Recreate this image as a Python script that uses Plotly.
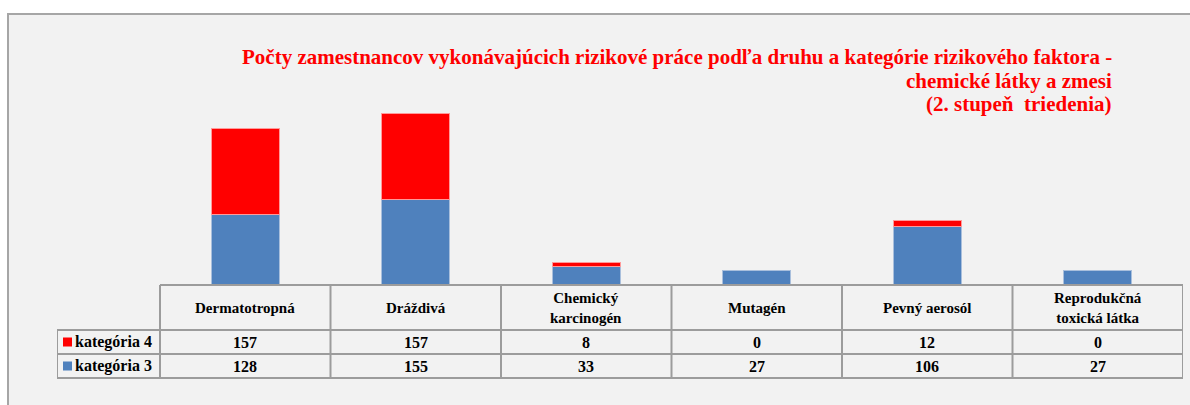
import plotly.graph_objects as go

categories = ["Dermatotropná", "Dráždivá", "Chemický karcinogén", "Mutagén",
              "Pevný aerosól", "Reprodukčná toxická látka"]
header_labels = ["Dermatotropná", "Dráždivá", "Chemický<br>karcinogén", "Mutagén",
                 "Pevný aerosól", "Reprodukčná<br>toxická látka"]
kat3 = [128, 155, 33, 27, 106, 27]
kat4 = [157, 157, 8, 0, 12, 0]
series_names = ["kategória 3", "kategória 4"]
title_lines = ["Počty zamestnancov vykonávajúcich rizikové práce podľa druhu a kategórie rizikového faktora -",
               "chemické látky a zmesi",
               "(2. stupeň  triedenia)"]

BLUE = "#4F81BD"
RED = "#FF0000"
GRID = "#9c9c9c"
FONT = "Liberation Serif"

W, H = 1190, 405
ML, MR, MT, MB = 57, 7, 93, 120
plot_w = W - ML - MR
plot_h = H - MT - MB
cat_px = (1183 - 160) / 6.0
xmin = -0.5 - (160 - 57) / cat_px

def fx(px):
    return (px - ML) / plot_w

def fy(py):
    return (H - MB - py) / plot_h

fig = go.Figure()
fig.add_trace(go.Bar(x=categories, y=kat3, name=series_names[0], marker_color=BLUE,
                     marker_line=dict(color="#a9bfdc", width=[1 if v > 0 else 0 for v in kat3]),
                     width=0.4))
fig.add_trace(go.Bar(x=categories, y=kat4, name=series_names[1], marker_color=RED,
                     marker_line=dict(color="#ff9a9a", width=[1 if v > 0 else 0 for v in kat4]),
                     width=0.4))

shapes = []
shapes.append(dict(type="rect", xref="paper", yref="paper",
                   x0=fx(8), x1=fx(1200), y0=fy(420), y1=fy(14),
                   fillcolor="#f2f2f2", line=dict(color="#a6a6a6", width=2), layer="below"))

y_head_top, y_head_bot, y_r1_bot, y_r2_bot = 285, 330, 354, 378
n = len(categories)
line = dict(color=GRID, width=2)
shapes.append(dict(type="line", xref="x", yref="paper", x0=-0.5, x1=n - 0.5,
                   y0=fy(y_head_top), y1=fy(y_head_top), line=line))
for yy in (y_head_bot, y_r1_bot, y_r2_bot):
    shapes.append(dict(type="line", xref="x", yref="paper", x0=xmin, x1=n - 0.5,
                       y0=fy(yy), y1=fy(yy), line=line))
for i in range(n + 1):
    shapes.append(dict(type="line", xref="x", yref="paper", x0=i - 0.5, x1=i - 0.5,
                       y0=fy(y_head_top), y1=fy(y_r2_bot), line=line))
shapes.append(dict(type="line", xref="x", yref="paper", x0=xmin, x1=xmin,
                   y0=fy(y_head_bot), y1=fy(y_r2_bot), line=line))

annotations = []
for k, (tl, top) in enumerate(zip(title_lines, (43, 67, 90))):
    annotations.append(dict(text="<b>" + tl + "</b>", xref="paper", yref="paper",
                            x=fx(1114), y=fy(top), xanchor="right", yanchor="top", align="right",
                            showarrow=False, font=dict(family=FONT, size=21, color=RED)))

for i, lab in enumerate(header_labels):
    annotations.append(dict(text="<b>" + lab + "</b>", xref="x", yref="paper",
                            x=categories[i], y=fy((y_head_top + y_head_bot) / 2),
                            xanchor="center", yanchor="middle", showarrow=False,
                            font=dict(family=FONT, size=15, color="#000000"), align="center"))
    annotations.append(dict(text="<b>" + str(kat4[i]) + "</b>", xref="x", yref="paper",
                            x=categories[i], y=fy((y_head_bot + y_r1_bot) / 2),
                            xanchor="center", yanchor="middle", showarrow=False,
                            font=dict(family=FONT, size=16, color="#000000")))
    annotations.append(dict(text="<b>" + str(kat3[i]) + "</b>", xref="x", yref="paper",
                            x=categories[i], y=fy((y_r1_bot + y_r2_bot) / 2),
                            xanchor="center", yanchor="middle", showarrow=False,
                            font=dict(family=FONT, size=16, color="#000000")))

for yy, name, col in (((y_head_bot + y_r1_bot) / 2, series_names[1], RED),
                      ((y_r1_bot + y_r2_bot) / 2, series_names[0], BLUE)):
    shapes.append(dict(type="rect", xref="paper", yref="paper",
                       x0=fx(63), x1=fx(72), y0=fy(yy + 4.5), y1=fy(yy - 4.5),
                       fillcolor=col, line=dict(width=0)))
    annotations.append(dict(text="<b>" + name + "</b>", xref="paper", yref="paper",
                            x=fx(73), y=fy(yy), xanchor="left", yanchor="middle", showarrow=False,
                            font=dict(family=FONT, size=16, color="#000000")))

fig.update_layout(
    width=W, height=H,
    margin=dict(l=ML, r=MR, t=MT, b=MB, pad=0),
    barmode="stack",
    showlegend=False,
    paper_bgcolor="#ffffff",
    plot_bgcolor="rgba(0,0,0,0)",
    shapes=shapes,
    annotations=annotations,
    xaxis=dict(range=[xmin, n - 0.5], showticklabels=False, showgrid=False,
               zeroline=False, showline=False, ticks=""),
    yaxis=dict(range=[0, 350], showticklabels=False, showgrid=False,
               zeroline=False, showline=False, ticks=""),
)

post = ("document.body.style.margin='0';document.body.style.padding='0';"
        "document.documentElement.style.overflow='hidden';")
fig.write_html("out.html", post_script=post, config={"displayModeBar": False})
